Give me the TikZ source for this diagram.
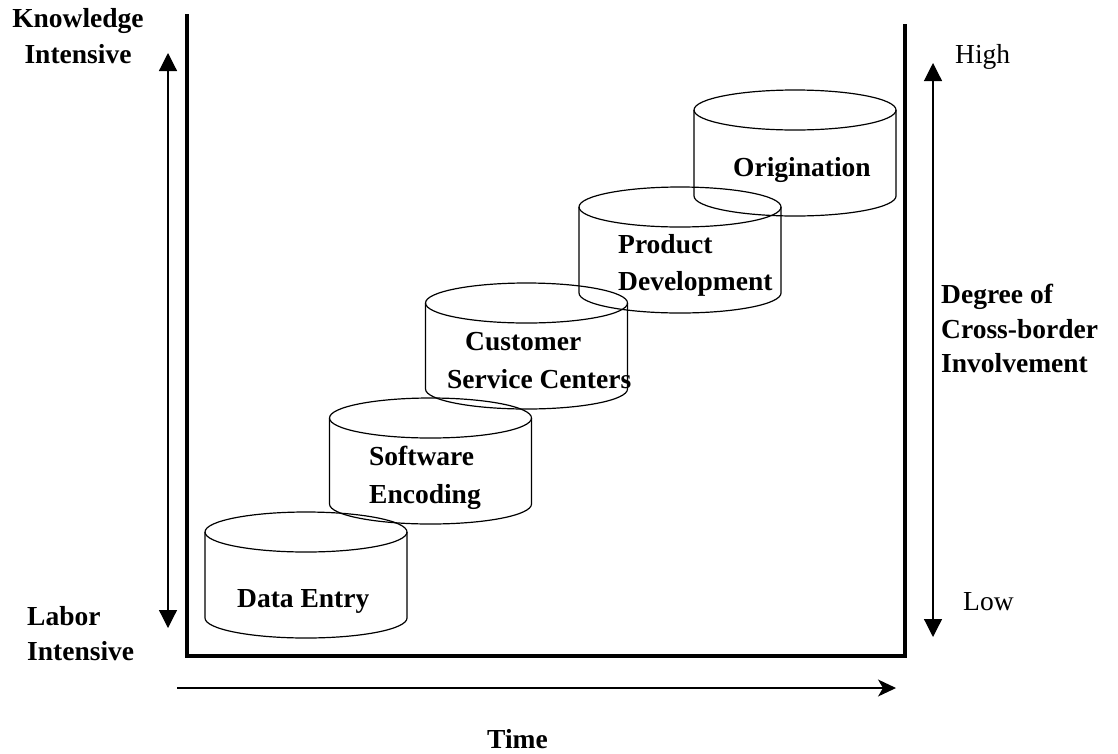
\documentclass[tikz,border=0pt]{standalone}
\usepackage{fontspec}
\setmainfont{Liberation Serif}
\usetikzlibrary{arrows.meta}

% one drum: #1 = centre x, #2 = centre y of the top face
\newcommand{\drum}[2]{%
  \draw[drumline] (#1,#2) ellipse [x radius=101, y radius=20];
  \draw[drumline] (#1-101,#2) -- (#1-101,#2+86)
    arc[start angle=180, end angle=0, x radius=101, y radius=20] -- (#1+101,#2);
}

\tikzset{
  drumline/.style={line width=1.2pt},
  frameline/.style={line width=4pt},
  scalearrow/.style={line width=1.2pt, {Triangle[width=18pt,length=18pt]}-{Triangle[width=18pt,length=18pt]}},
  timearrow/.style={line width=1.2pt, -{Stealth[width=17pt,length=18pt,inset=5pt]}},
  lbl/.style={inner sep=0pt, font=\fontsize{27.5}{34}\selectfont\bfseries},
  plain/.style={inner sep=0pt, font=\fontsize{27.5}{34}\selectfont},
}

\begin{document}
\begin{tikzpicture}[x=1pt, y=-1pt]
\useasboundingbox (0,0) rectangle (1118,753);

% frame
\draw[frameline] (187,14) -- (187,656) -- (905,656) -- (905,24);

% knowledge scale
\coordinate (ktop) at (168,53);
\coordinate (kbot) at (168,628);
\draw[scalearrow] (kbot) -- (ktop);

% cross-border scale
\coordinate (ctop) at (933,63);
\coordinate (cbot) at (933,637);
\draw[scalearrow] (cbot) -- (ctop);

% time axis
\coordinate (tstart) at (177,688);
\coordinate (tend) at (896,688);
\draw[timearrow] (tstart) -- (tend);

% drums
\drum{306}{532}
\drum{430.5}{418}
\drum{526.5}{303}
\drum{680}{207}
\drum{795}{110}

% drum labels
\node[lbl, anchor=base west] (de) at (237,607) {Data Entry};
\node[lbl, anchor=base west] (sw1) at (369,465) {Software};
\node[lbl, anchor=base west] (sw2) at (369,503) {Encoding};
\node[lbl, anchor=base west] (cs1) at (465,350) {Customer};
\node[lbl, anchor=base west] (cs2) at (447,388) {Service Centers};
\node[lbl, anchor=base west] (pd1) at (618,253) {Product};
\node[lbl, anchor=base west] (pd2) at (618,290) {Development};
\node[lbl, anchor=base west] (or) at (733,176) {Origination};

% axis labels
\node[lbl, anchor=base] (kn1) at (78,27) {Knowledge};
\node[lbl, anchor=base] (kn2) at (78,63) {Intensive};
\node[lbl, anchor=base west] (lb1) at (27,625) {Labor};
\node[lbl, anchor=base west] (lb2) at (27,660) {Intensive};
\node[plain, anchor=base west] (hi) at (955,63) {High};
\node[plain, anchor=base west] (lo) at (963,610) {Low};
\node[lbl, anchor=base west] (dg1) at (941,303) {Degree of};
\node[lbl, anchor=base west] (dg2) at (941,338) {Cross-border};
\node[lbl, anchor=base west] (dg3) at (941,372) {Involvement};
\node[lbl, anchor=base west] (tm) at (487,748) {Time};
\end{tikzpicture}
\end{document}
